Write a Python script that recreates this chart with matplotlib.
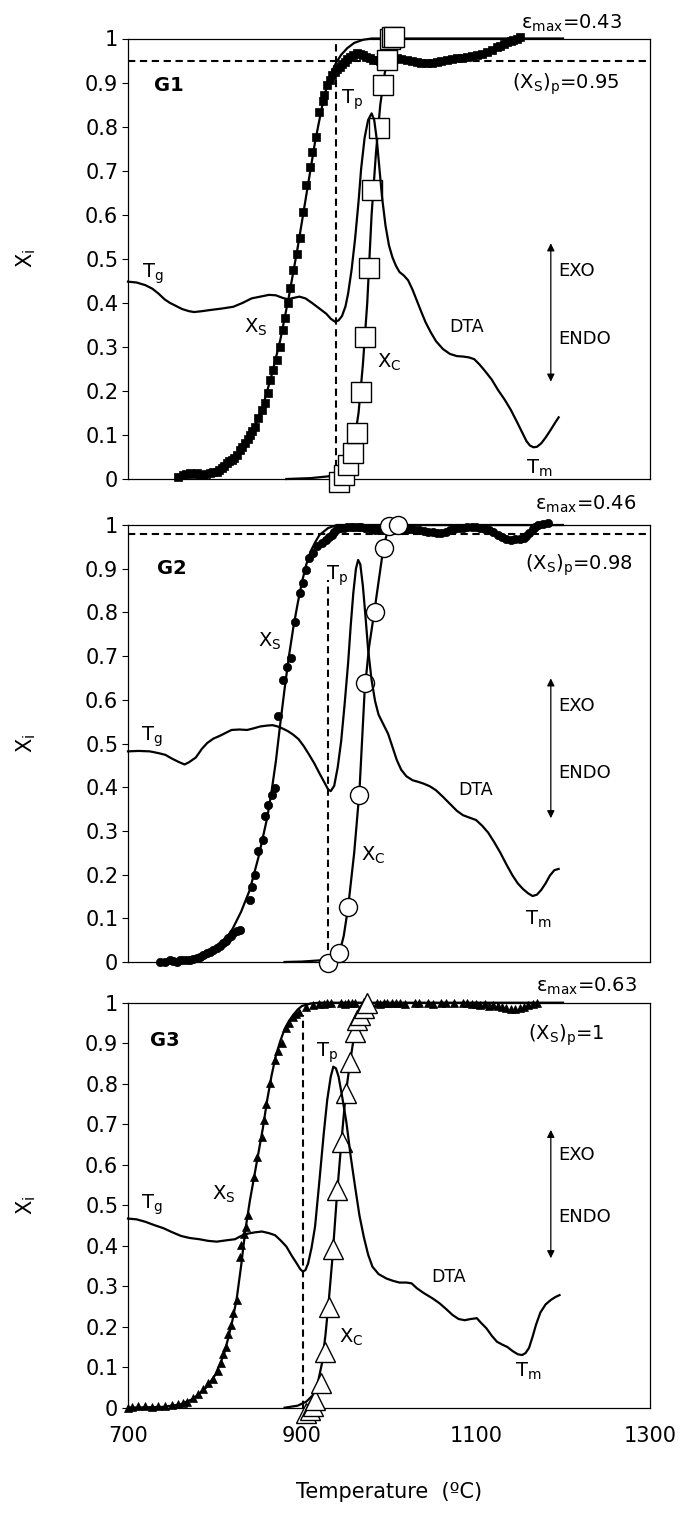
import matplotlib
matplotlib.use("Agg")
import matplotlib.pyplot as plt

plt.rcParams['font.family'] = ['DejaVu Sans']
plt.rcParams['mathtext.fontset'] = 'dejavusans'

# ---------------- G1 ----------------
g1_xs_T = [757.8, 763.6, 767, 771.3, 775, 779, 783, 786.6, 790, 794.3, 798, 802, 805, 807.7,
           810.5, 813.4, 816.5, 819.2, 822, 824.9, 828.7, 831.5, 834.5, 837.5, 840.2, 843, 846,
           849.8, 853.7, 857.5, 861.3, 863.2, 867, 870.9, 874.7, 878.5, 880.5, 883.5, 886.2, 890,
           894, 897.7, 901.5, 904.6, 909.2, 911.9, 915.7, 919.9, 923.8, 925.3, 929, 932.2, 934.1,
           937.9, 940, 943.7, 946.5, 949.4, 952, 955.2, 959, 962.9, 966.5, 970.5, 974, 978.2, 982,
           985.9, 990, 994, 997.3, 1002, 1008.8, 1014, 1020.3, 1026, 1031.8, 1037, 1043.3, 1049,
           1054.8, 1060, 1066.3, 1072, 1077.8, 1083.5, 1089.3, 1095, 1100.8, 1106.5, 1112.3, 1118,
           1123.8, 1128, 1132, 1136, 1140, 1143, 1147, 1150.6]
g1_xs = [0.005, 0.009, 0.011, 0.013, 0.012, 0.013, 0.010, 0.009, 0.011, 0.013, 0.015, 0.017, 0.020,
         0.024, 0.030, 0.036, 0.040, 0.043, 0.048, 0.054, 0.066, 0.073, 0.081, 0.090, 0.100, 0.110,
         0.119, 0.138, 0.157, 0.172, 0.195, 0.225, 0.247, 0.270, 0.300, 0.338, 0.365, 0.400, 0.433,
         0.474, 0.510, 0.546, 0.607, 0.667, 0.709, 0.743, 0.777, 0.834, 0.857, 0.872, 0.895, 0.906,
         0.917, 0.925, 0.930, 0.936, 0.942, 0.947, 0.953, 0.958, 0.963, 0.966, 0.964, 0.962, 0.958,
         0.955, 0.952, 0.951, 0.950, 0.951, 0.951, 0.953, 0.955, 0.953, 0.951, 0.948, 0.947, 0.944,
         0.944, 0.945, 0.947, 0.948, 0.951, 0.953, 0.955, 0.956, 0.958, 0.960, 0.962, 0.965, 0.970,
         0.975, 0.981, 0.984, 0.988, 0.992, 0.995, 0.997, 1.000, 1.003]
g1_xs_fit_T = [757, 780, 800, 815, 830, 845, 855, 865, 875, 885, 895, 905, 915, 925, 932, 939,
               945, 952, 960, 970, 980, 1200]
g1_xs_fit = [0.003, 0.006, 0.014, 0.030, 0.062, 0.115, 0.165, 0.235, 0.315, 0.415, 0.525, 0.645,
             0.765, 0.865, 0.915, 0.944, 0.963, 0.978, 0.990, 0.997, 1.0, 1.0]
g1_xc_T = [943, 948, 953.2, 958.2, 963.3, 967.3, 972.4, 977.5, 981.0, 988.6, 992.6, 997.2, 1001.2,
           1003.5, 1006.3]
g1_xc = [-0.006, 0.009, 0.032, 0.058, 0.104, 0.198, 0.323, 0.478, 0.656, 0.796, 0.894, 0.951,
         1.0, 1.003, 1.003]
g1_xc_fit_T = [882, 910, 930, 940, 948, 955, 960, 965, 970, 975, 980, 985, 990, 995, 1000, 1005, 1010]
g1_xc_fit = [0.0, 0.002, 0.006, 0.012, 0.025, 0.05, 0.085, 0.15, 0.26, 0.40, 0.60, 0.74, 0.85,
             0.92, 0.97, 0.995, 1.0]
g1_dta_T = [700, 710, 720, 728, 735, 742, 748, 755, 762, 770, 776, 785, 796, 808, 821, 832, 842,
            852, 862, 870, 878, 884, 890, 897, 904, 912, 920, 928, 933, 938, 942, 946, 950, 953,
            957, 961, 965, 968, 972, 976, 980, 983, 986, 989, 992, 996, 1000, 1004, 1008, 1012,
            1017, 1022, 1027, 1032, 1037, 1042, 1048, 1054, 1062, 1070, 1078, 1085, 1092, 1098,
            1104, 1110, 1118, 1125, 1133, 1140, 1147, 1153, 1158, 1162, 1166, 1170, 1175, 1180,
            1186, 1191, 1195]
g1_dta = [0.448, 0.446, 0.440, 0.432, 0.421, 0.408, 0.400, 0.393, 0.386, 0.381, 0.379, 0.381,
          0.384, 0.387, 0.391, 0.400, 0.410, 0.414, 0.418, 0.417, 0.411, 0.408, 0.411, 0.414,
          0.410, 0.399, 0.387, 0.375, 0.364, 0.357, 0.360, 0.370, 0.392, 0.421, 0.475, 0.545,
          0.630, 0.705, 0.775, 0.815, 0.830, 0.815, 0.770, 0.705, 0.640, 0.575, 0.530, 0.503,
          0.484, 0.470, 0.462, 0.451, 0.430, 0.405, 0.380, 0.356, 0.333, 0.313, 0.295, 0.284,
          0.279, 0.278, 0.276, 0.272, 0.260, 0.246, 0.226, 0.203, 0.180, 0.157, 0.130, 0.106,
          0.086, 0.076, 0.072, 0.073, 0.081, 0.094, 0.112, 0.128, 0.140]

# ---------------- G2 ----------------
g2_xs_T = [736.8, 742.5, 748.3, 752, 756, 760, 763.6, 767.5, 771.3, 775, 779, 783, 786.6, 790.5,
           794.3, 798, 802, 806, 809.6, 812.5, 815.3, 818, 821, 825, 828.7, 840.2, 843, 846,
           849.8, 854.8, 857.5, 861.3, 865.9, 869, 872.8, 878.5, 882.4, 887, 892, 897.7, 901.5,
           904.6, 908.4, 912.3, 916.9, 922.6, 927.6, 931, 934, 937, 940, 944, 948, 952, 956, 960,
           964, 968, 972, 976, 980, 984, 988, 992, 996, 1000, 1005, 1010, 1015, 1020, 1025, 1030,
           1035, 1040, 1045, 1050, 1055, 1060, 1065, 1070, 1075, 1080, 1085, 1090, 1095, 1100,
           1105, 1110, 1115, 1120, 1125, 1130, 1135, 1140, 1145, 1150, 1155, 1158, 1161, 1165,
           1168, 1171, 1177, 1183]
g2_xs = [0.001, 0.001, 0.005, 0.003, 0.001, 0.004, 0.005, 0.004, 0.005, 0.007, 0.009, 0.012,
         0.017, 0.020, 0.024, 0.028, 0.032, 0.037, 0.043, 0.049, 0.055, 0.060, 0.066, 0.070, 0.074,
         0.143, 0.172, 0.200, 0.253, 0.280, 0.333, 0.360, 0.383, 0.398, 0.562, 0.646, 0.676, 0.696,
         0.779, 0.844, 0.867, 0.898, 0.924, 0.936, 0.951, 0.959, 0.966, 0.972, 0.978, 0.985, 0.990,
         0.992, 0.994, 0.995, 0.996, 0.996, 0.995, 0.996, 0.994, 0.993, 0.991, 0.989, 0.991, 0.992,
         0.992, 0.991, 0.990, 0.989, 0.988, 0.989, 0.990, 0.989, 0.988, 0.986, 0.984, 0.983, 0.982,
         0.981, 0.985, 0.988, 0.990, 0.992, 0.994, 0.995, 0.996, 0.996, 0.993, 0.990, 0.989, 0.985,
         0.978, 0.973, 0.969, 0.966, 0.967, 0.969, 0.970, 0.975, 0.981, 0.990, 0.996, 1.000, 1.002,
         1.004]
g2_xs_fit_T = [775, 790, 800, 810, 820, 830, 840, 850, 855, 860, 865, 870, 875, 880, 885, 890, 895,
               900, 905, 910, 915, 920, 930, 940, 1200]
g2_xs_fit = [0.0, 0.01, 0.025, 0.045, 0.075, 0.115, 0.165, 0.24, 0.285, 0.33, 0.39, 0.46, 0.545,
             0.625, 0.70, 0.765, 0.82, 0.87, 0.91, 0.94, 0.96, 0.977, 0.993, 1.0, 1.0]
g2_xc_T = [930.4, 943, 953.2, 965.8, 972.4, 983.5, 993.7, 1000.5, 1010]
g2_xc = [-0.002, 0.021, 0.127, 0.383, 0.638, 0.802, 0.947, 0.998, 1.0]
g2_xc_fit_T = [880, 900, 930, 943, 948, 953, 960, 966, 972, 977, 983, 988, 993, 998, 1003]
g2_xc_fit = [0.0, 0.001, 0.005, 0.02, 0.06, 0.125, 0.25, 0.39, 0.62, 0.72, 0.80, 0.87, 0.94,
             0.985, 1.0]
g2_dta_T = [700, 712, 725, 735, 743, 750, 758, 765, 770, 778, 785, 791, 798, 806, 813, 819, 828,
            837, 845, 852, 860, 866, 872, 878, 884, 890, 896, 902, 908, 914, 920, 926, 930, 933,
            937, 941, 945, 949, 953, 956, 959, 962, 964.5, 967, 970, 973, 976, 980, 984, 988, 993,
            999, 1004, 1009, 1014, 1020, 1027, 1034, 1040, 1047, 1054, 1062, 1070, 1078, 1085,
            1093, 1100, 1107, 1114, 1121, 1128, 1135, 1142, 1148, 1154, 1160, 1165, 1170, 1175,
            1180, 1185, 1190, 1195]
g2_dta = [0.482, 0.483, 0.482, 0.478, 0.474, 0.466, 0.458, 0.452, 0.457, 0.468, 0.488, 0.501,
          0.511, 0.518, 0.525, 0.531, 0.532, 0.531, 0.535, 0.539, 0.541, 0.542, 0.539, 0.534,
          0.528, 0.520, 0.510, 0.494, 0.475, 0.455, 0.432, 0.410, 0.395, 0.391, 0.403, 0.445,
          0.505, 0.590, 0.684, 0.770, 0.845, 0.900, 0.920, 0.910, 0.860, 0.790, 0.715, 0.645,
          0.597, 0.566, 0.546, 0.522, 0.492, 0.462, 0.440, 0.425, 0.416, 0.412, 0.408, 0.402,
          0.393, 0.378, 0.362, 0.346, 0.336, 0.330, 0.325, 0.312, 0.296, 0.274, 0.250, 0.223,
          0.198, 0.180, 0.167, 0.157, 0.151, 0.154, 0.165, 0.180, 0.198, 0.210, 0.213]

# ---------------- G3 ----------------
g3_xs_T = [700, 705, 712, 720, 728, 735, 742, 750, 757, 763, 767.3, 775, 780.8, 786.5, 792.3, 798.1,
           803.8, 806.5, 809.6, 812.3, 815.4, 818.5, 821.2, 825, 828.8, 830.4, 832.8, 835.5, 838.1,
           844.8, 848.3, 853.5, 856, 858.6, 863.7, 868.8, 872, 876.5, 881.6, 885, 889.3, 893,
           896.9, 904.6, 912.3, 920, 925, 929, 933, 945, 949, 953, 957, 961, 986, 990, 994, 998,
           1003, 1008, 1013, 1018, 1030, 1035, 1045, 1050, 1060, 1065, 1075, 1085, 1090, 1095,
           1100, 1105, 1110, 1115, 1120, 1125, 1130, 1135, 1140, 1145, 1150, 1155, 1160, 1165, 1170]
g3_xs = [0.0, 0.002, 0.003, 0.004, 0.002, 0.003, 0.004, 0.006, 0.008, 0.012, 0.015, 0.023, 0.034,
         0.045, 0.061, 0.072, 0.091, 0.110, 0.132, 0.151, 0.182, 0.205, 0.234, 0.265, 0.371, 0.402,
         0.430, 0.447, 0.476, 0.570, 0.620, 0.669, 0.710, 0.751, 0.801, 0.858, 0.880, 0.900, 0.937,
         0.950, 0.965, 0.972, 0.978, 0.990, 0.994, 0.998, 0.997, 0.999, 1.0, 1.0, 0.998, 1.0, 0.999,
         1.0, 1.0, 0.998, 1.0, 1.0, 0.999, 1.0, 1.0, 0.998, 1.0, 0.999, 1.0, 0.998, 1.0, 0.999,
         1.0, 0.999, 1.0, 0.997, 0.998, 0.995, 0.996, 0.993, 0.994, 0.991, 0.990, 0.987, 0.985,
         0.984, 0.986, 0.990, 0.994, 0.998, 1.0]
g3_xs_fit_T = [700, 740, 760, 775, 790, 800, 810, 815, 820, 825, 830, 835, 840, 845, 850, 855, 860,
               865, 870, 875, 880, 885, 890, 895, 900, 910, 920, 1200]
g3_xs_fit = [0.0, 0.002, 0.008, 0.022, 0.05, 0.08, 0.13, 0.17, 0.215, 0.27, 0.35, 0.44, 0.51,
             0.57, 0.63, 0.69, 0.76, 0.82, 0.87, 0.905, 0.935, 0.955, 0.97, 0.983, 0.992, 0.998,
             1.0, 1.0]
g3_xc_T = [905, 909, 913, 915, 922, 926, 931, 936, 940.4, 945.5, 950.6, 955.7, 960.9, 963.4, 967,
           971, 975]
g3_xc = [-0.012, -0.006, 0.005, 0.019, 0.06, 0.138, 0.249, 0.393, 0.537, 0.657, 0.776, 0.854,
         0.928, 0.957, 0.970, 0.986, 1.0]
g3_xc_fit_T = [880, 895, 905, 912, 918, 923, 927, 931, 935, 940, 945, 950, 955, 960, 965, 970, 975]
g3_xc_fit = [0.0, 0.005, 0.015, 0.03, 0.06, 0.11, 0.18, 0.27, 0.37, 0.52, 0.65, 0.77, 0.85, 0.92,
             0.96, 0.985, 1.0]
g3_dta_T = [700, 710, 720, 730, 741, 750, 761, 771, 782, 792, 802, 812, 823, 830, 838, 846, 854,
            862, 869, 875, 882, 888, 894, 898, 901, 904, 907, 911, 915, 920, 925, 929, 933, 936,
            939, 942, 946, 951, 956, 961, 966, 971, 976, 981, 988, 997, 1005, 1012, 1020, 1026,
            1032, 1040, 1050, 1058, 1066, 1073, 1080, 1087, 1094, 1101, 1106, 1112, 1118, 1124,
            1130, 1136, 1142, 1148, 1153, 1157, 1161, 1165, 1169, 1174, 1180, 1186, 1191, 1196]
g3_dta = [0.467, 0.465, 0.459, 0.451, 0.443, 0.434, 0.424, 0.419, 0.416, 0.412, 0.410, 0.413,
          0.416, 0.424, 0.430, 0.433, 0.435, 0.431, 0.426, 0.414, 0.398, 0.376, 0.356, 0.342,
          0.336, 0.340, 0.356, 0.395, 0.447, 0.560, 0.677, 0.760, 0.817, 0.842, 0.838, 0.818,
          0.770, 0.705, 0.620, 0.546, 0.475, 0.422, 0.378, 0.348, 0.330, 0.319, 0.313, 0.309,
          0.309, 0.307, 0.295, 0.283, 0.270, 0.258, 0.243, 0.229, 0.219, 0.216, 0.219, 0.221,
          0.209, 0.196, 0.178, 0.163, 0.156, 0.150, 0.140, 0.132, 0.130, 0.135, 0.148, 0.175,
          0.205, 0.235, 0.255, 0.266, 0.273, 0.278]

y_ticks = [0, 0.1, 0.2, 0.3, 0.4, 0.5, 0.6, 0.7, 0.8, 0.9, 1]
y_tick_labels = ['0', '0.1', '0.2', '0.3', '0.4', '0.5', '0.6', '0.7', '0.8', '0.9', '1']
x_ticks = [700, 900, 1100, 1300]

W, H = 690, 1529
fig = plt.figure(figsize=(W / 100, H / 100), dpi=100)

FS = 15     # tick labels and axis titles
AFS = 14    # curve annotations
LW = 1.6


def make_axes(top_px, bottom_px):
    return fig.add_axes([128 / W, 1 - bottom_px / H, 522 / W, (bottom_px - top_px) / H])


def draw_panel(ax, xs_T, xs, fit_T, fit, xc_T, xc, xcfit_T, xcfit, dta_T, dta,
               marker, ms_small, ms_big, tp, tp_top, xsp):
    # conversion data and fits
    ax.plot(xs_T, xs, linestyle='none', marker=marker, ms=ms_small, color='black',
            markeredgewidth=0.5, clip_on=False, zorder=2)
    ax.plot(fit_T, fit, color='black', lw=LW, clip_on=False, zorder=3)
    ax.plot(xcfit_T, xcfit, color='black', lw=LW, clip_on=False, zorder=3)
    ax.plot(xc_T, xc, linestyle='none', marker=marker, ms=ms_big, markerfacecolor='white',
            markeredgecolor='black', markeredgewidth=1.0, clip_on=False, zorder=4)
    ax.plot(dta_T, dta, color='black', lw=LW, clip_on=False, zorder=5)
    # reference dashed lines
    ax.plot([tp, tp], [0, tp_top], color='black', lw=1.5, dashes=(3.5, 2.2), zorder=1)
    if xsp is not None:
        ax.plot([700, 1300], [xsp, xsp], color='black', lw=1.5, dashes=(3.5, 2.2), zorder=1)

    ax.set_xlim(700, 1300)
    ax.set_ylim(0, 1)
    ax.set_yticks(y_ticks)
    ax.set_yticklabels(y_tick_labels, fontsize=FS)
    ax.set_xticks(x_ticks)
    ax.tick_params(axis='y', direction='out', length=4, width=0.8, pad=3)
    ax.tick_params(axis='x', direction='out', length=0, pad=13, labelsize=FS)
    for s in ax.spines.values():
        s.set_linewidth(0.9)
    ax.set_ylabel(r'$\mathregular{X_i}$', fontsize=FS)
    ax.yaxis.set_label_coords(-0.172, 0.5)


def exo_endo(ax, top, bottom, exo_y, endo_y):
    ax.annotate('', xy=(1186, top), xytext=(1186, bottom),
                arrowprops=dict(arrowstyle='<|-|>', color='black', lw=0.9,
                                mutation_scale=11, shrinkA=0, shrinkB=0))
    ax.text(1195, exo_y, 'EXO', fontsize=13, ha='left', va='center')
    ax.text(1195, endo_y, 'ENDO', fontsize=13, ha='left', va='center')


# Panel G1
ax1 = make_axes(38.5, 479)
draw_panel(ax1, g1_xs_T, g1_xs, g1_xs_fit_T, g1_xs_fit, g1_xc_T, g1_xc, g1_xc_fit_T, g1_xc_fit,
           g1_dta_T, g1_dta, 's', 5.5, 14, 939, 1.0, 0.95)
ax1.tick_params(axis='x', labelbottom=False)
ax1.text(1268, 1.034, r'$\mathregular{\varepsilon_{max}}$=0.43', fontsize=AFS, ha='right', va='center')
ax1.text(1265, 0.896, r'$\mathregular{(X_S)_p}$=0.95', fontsize=AFS, ha='right', va='center')
ax1.text(730, 0.894, 'G1', fontsize=AFS, fontweight='bold', ha='left', va='center')
ax1.text(945, 0.86, r'$\mathregular{T_p}$', fontsize=AFS, ha='left', va='center')
ax1.text(833, 0.345, r'$\mathregular{X_S}$', fontsize=AFS, ha='left', va='center')
ax1.text(716, 0.465, r'$\mathregular{T_g}$', fontsize=AFS, ha='left', va='center')
ax1.text(986, 0.265, r'$\mathregular{X_C}$', fontsize=AFS, ha='left', va='center')
ax1.text(1069, 0.345, 'DTA', fontsize=12.5, ha='left', va='center')
ax1.text(1157, 0.025, r'$\mathregular{T_m}$', fontsize=AFS, ha='left', va='center')
exo_endo(ax1, 0.535, 0.221, 0.473, 0.318)

# Panel G2
ax2 = make_axes(525, 962)
draw_panel(ax2, g2_xs_T, g2_xs, g2_xs_fit_T, g2_xs_fit, g2_xc_T, g2_xc, g2_xc_fit_T, g2_xc_fit,
           g2_dta_T, g2_dta, 'o', 6, 13, 930, 0.875, 0.98)
ax2.tick_params(axis='x', labelbottom=False)
ax2.text(1285, 1.048, r'$\mathregular{\varepsilon_{max}}$=0.46', fontsize=AFS, ha='right', va='center')
ax2.text(1280, 0.907, r'$\mathregular{(X_S)_p}$=0.98', fontsize=AFS, ha='right', va='center')
ax2.text(733, 0.90, 'G2', fontsize=AFS, fontweight='bold', ha='left', va='center')
ax2.text(928, 0.885, r'$\mathregular{T_p}$', fontsize=AFS, ha='left', va='center')
ax2.text(849, 0.733, r'$\mathregular{X_S}$', fontsize=AFS, ha='left', va='center')
ax2.text(715, 0.516, r'$\mathregular{T_g}$', fontsize=AFS, ha='left', va='center')
ax2.text(968, 0.244, r'$\mathregular{X_C}$', fontsize=AFS, ha='left', va='center')
ax2.text(1080, 0.394, 'DTA', fontsize=12.5, ha='left', va='center')
ax2.text(1156, 0.098, r'$\mathregular{T_m}$', fontsize=AFS, ha='left', va='center')
exo_endo(ax2, 0.649, 0.329, 0.585, 0.432)

# Panel G3
ax3 = make_axes(1002.7, 1407.7)
draw_panel(ax3, g3_xs_T, g3_xs, g3_xs_fit_T, g3_xs_fit, g3_xc_T, g3_xc, g3_xc_fit_T, g3_xc_fit,
           g3_dta_T, g3_dta, '^', 6, 14, 901, 0.97, None)
ax3.text(1285, 1.04, r'$\mathregular{\varepsilon_{max}}$=0.63', fontsize=AFS, ha='right', va='center')
ax3.text(1247, 0.92, r'$\mathregular{(X_S)_p}$=1', fontsize=AFS, ha='right', va='center')
ax3.text(725, 0.906, 'G3', fontsize=AFS, fontweight='bold', ha='left', va='center')
ax3.text(916, 0.877, r'$\mathregular{T_p}$', fontsize=AFS, ha='left', va='center')
ax3.text(797, 0.528, r'$\mathregular{X_S}$', fontsize=AFS, ha='left', va='center')
ax3.text(715, 0.50, r'$\mathregular{T_g}$', fontsize=AFS, ha='left', va='center')
ax3.text(943, 0.174, r'$\mathregular{X_C}$', fontsize=AFS, ha='left', va='center')
ax3.text(1048, 0.322, 'DTA', fontsize=12.5, ha='left', va='center')
ax3.text(1145, 0.089, r'$\mathregular{T_m}$', fontsize=AFS, ha='left', va='center')
exo_endo(ax3, 0.686, 0.369, 0.624, 0.472)
ax3.set_xticklabels([str(t) for t in x_ticks], fontsize=FS)

fig.text((128 + 261) / W, 1 - 1492 / H, 'Temperature  (ºC)', fontsize=FS, ha='center', va='center')

fig.savefig('out.png', dpi=100)
